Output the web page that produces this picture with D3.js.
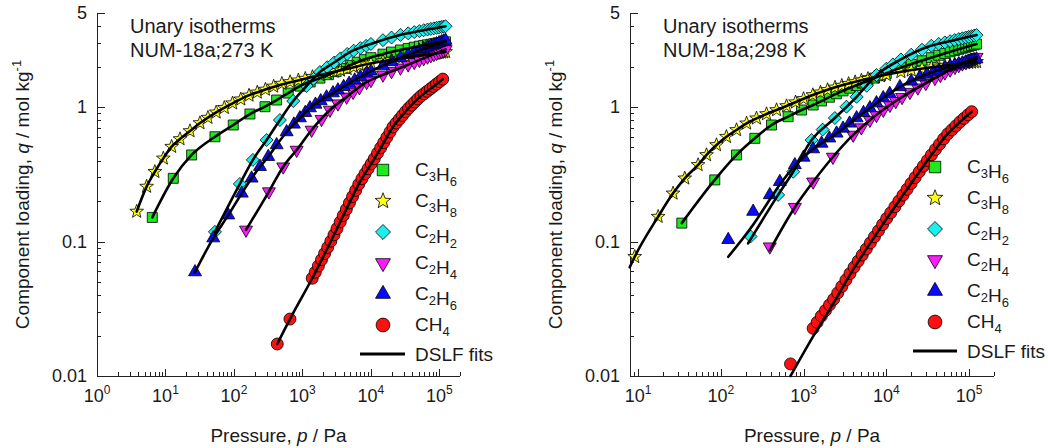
<!DOCTYPE html>
<html>
<head>
<meta charset="utf-8">
<script src="https://cdn.jsdelivr.net/npm/d3@7"></script>
<style>
  html, body { margin: 0; padding: 0; background: #ffffff; }
  svg { display: block; font-family: "Liberation Sans", Arial, Helvetica, sans-serif; }
</style>
</head>
<body>
<svg id="chart" width="1048" height="448"></svg>
<script>
// ---------------- axis ticks ----------------
const yTickValues = [0.01, 0.1, 1, 5];
const yTickLabels = ["0.01", "0.1", "1", "5"];
const xTickExponents273 = [0, 1, 2, 3, 4, 5];
const xTickExponents298 = [1, 2, 3, 4, 5];

// ---------------- species ----------------
const speciesKeys = ["C3H6", "C3H8", "C2H2", "C2H4", "C2H6", "CH4"];
const speciesLabels = [
  [["C", "3"], ["H", "6"]],
  [["C", "3"], ["H", "8"]],
  [["C", "2"], ["H", "2"]],
  [["C", "2"], ["H", "4"]],
  [["C", "2"], ["H", "6"]],
  [["CH", "4"]]
];
const panelTitles273 = ["Unary isotherms", "NUM-18a;273 K"];
const panelTitles298 = ["Unary isotherms", "NUM-18a;298 K"];
const fitLabel = "DSLF fits";

// ---------------- 273 K : measured loadings (p / Pa, q / mol kg-1) ----------------
const p273C3H6 = [6.42, 13.0, 24.1, 52.8, 97.7, 171, 284, 420, 620, 919, 1300, 1800, 2400, 3100, 4000, 5000, 6300, 8000, 10000, 15000, 20000, 27000, 35000, 43000, 51000, 59000, 67000, 75000, 83000, 91000, 99000, 107000, 115000, 123000];
const q273C3H6 = [0.151, 0.295, 0.440, 0.601, 0.735, 0.887, 1.005, 1.127, 1.270, 1.430, 1.535, 1.640, 1.739, 1.832, 1.936, 2.039, 2.153, 2.250, 2.328, 2.471, 2.560, 2.655, 2.727, 2.786, 2.835, 2.870, 2.901, 2.928, 2.953, 2.976, 2.996, 3.015, 3.034, 3.051];

const p273C3H8 = [3.8, 5.3, 7.0, 9.3, 12.3, 16.3, 22.8, 31.9, 41.7, 55.0, 72.4, 95.5, 126, 166, 219, 288, 380, 501, 661, 871, 1100, 1400, 1800, 2300, 2900, 3600, 4500, 5600, 7000, 8500, 10000, 15000, 20000, 27000, 35000, 43000, 51000, 59000, 67000, 75000, 83000, 91000, 99000, 107000, 115000, 123000];
const q273C3H8 = [0.167, 0.256, 0.330, 0.415, 0.507, 0.578, 0.663, 0.760, 0.833, 0.913, 0.987, 1.067, 1.141, 1.219, 1.284, 1.349, 1.422, 1.492, 1.535, 1.579, 1.625, 1.677, 1.728, 1.779, 1.829, 1.872, 1.919, 1.977, 2.038, 2.076, 2.109, 2.189, 2.238, 2.291, 2.337, 2.375, 2.405, 2.432, 2.455, 2.476, 2.495, 2.512, 2.528, 2.543, 2.557, 2.570];

const p273C2H2 = [52.8, 122, 189, 300, 469, 734, 1152, 1450, 1800, 2300, 2900, 3600, 4500, 5600, 7000, 8500, 10000, 15000, 20000, 27000, 35000, 43000, 51000, 59000, 67000, 75000, 83000, 91000, 99000, 107000, 115000, 123000];
const q273C2H2 = [0.118, 0.268, 0.404, 0.568, 0.800, 1.108, 1.433, 1.621, 1.820, 1.978, 2.140, 2.301, 2.481, 2.624, 2.742, 2.848, 2.941, 3.141, 3.284, 3.437, 3.530, 3.606, 3.670, 3.725, 3.771, 3.810, 3.846, 3.878, 3.908, 3.936, 3.963, 3.987];

const p273C2H4 = [150, 324, 524, 823, 1362, 1900, 2520, 3300, 4418, 5500, 6800, 8655, 10000, 15000, 20000, 27000, 35000, 43000, 51000, 59000, 67000, 75000, 83000, 91000, 99000, 107000, 115000, 123000];
const q273C2H4 = [0.122, 0.235, 0.360, 0.479, 0.675, 0.812, 0.950, 1.059, 1.190, 1.291, 1.398, 1.530, 1.583, 1.736, 1.841, 1.957, 2.065, 2.155, 2.232, 2.301, 2.362, 2.418, 2.470, 2.518, 2.562, 2.603, 2.642, 2.680];

const p273C2H6 = [27.0, 49.9, 82.6, 130, 181, 240, 317, 420, 588, 750, 919, 1100, 1287, 1550, 1850, 2250, 2788, 3300, 4000, 4800, 5800, 7000, 8655, 10000, 15000, 20000, 27000, 35000, 43000, 51000, 59000, 67000, 75000, 83000, 91000, 99000, 107000, 115000, 123000];
const q273C2H6 = [0.0593, 0.106, 0.157, 0.228, 0.295, 0.360, 0.427, 0.522, 0.652, 0.743, 0.828, 0.907, 0.983, 1.045, 1.109, 1.183, 1.270, 1.335, 1.414, 1.493, 1.580, 1.671, 1.780, 1.841, 2.023, 2.163, 2.319, 2.440, 2.541, 2.628, 2.705, 2.774, 2.836, 2.893, 2.946, 2.996, 3.042, 3.085, 3.127];

const p273CH4 = [429, 657, 1390, 1540, 1710, 1900, 2110, 2340, 2600, 2890, 3200, 3560, 3950, 4380, 4860, 5400, 6000, 6650, 7400, 8200, 9100, 10100, 11200, 12500, 13900, 15400, 17100, 19000, 21000, 23400, 26000, 28800, 32000, 35500, 39400, 43700, 48500, 53800, 59700, 66300, 73600, 81700, 90700, 100700, 112000];
const q273CH4 = [0.0173, 0.0265, 0.0533, 0.0591, 0.0658, 0.0732, 0.0814, 0.0904, 0.1006, 0.1121, 0.1248, 0.1397, 0.1558, 0.1738, 0.1938, 0.2158, 0.2402, 0.2666, 0.2931, 0.3190, 0.3475, 0.3785, 0.4130, 0.4543, 0.4981, 0.5440, 0.5957, 0.6523, 0.7107, 0.7602, 0.8113, 0.8642, 0.9226, 0.9781, 1.032, 1.089, 1.149, 1.206, 1.256, 1.308, 1.362, 1.419, 1.481, 1.544, 1.612];

// ---------------- 273 K : DSLF fit curves ----------------
const fitP273C3H6 = [6.42, 13.0, 24.1, 52.8, 97.7, 171, 284, 420, 620, 919, 1800, 3527, 6909, 13535, 26510, 51920, 123000];
const fitQ273C3H6 = [0.151, 0.295, 0.440, 0.601, 0.735, 0.887, 1.005, 1.127, 1.270, 1.430, 1.640, 1.880, 2.200, 2.440, 2.650, 2.840, 3.051];
const fitP273C3H8 = [3.8, 5.3, 7.0, 9.3, 12.3, 16.3, 22.8, 31.9, 52.8, 97, 171, 303, 469, 919, 1423, 2788, 4462, 6909, 13535, 41040, 123000];
const fitQ273C3H8 = [0.167, 0.256, 0.330, 0.415, 0.507, 0.578, 0.663, 0.760, 0.902, 1.070, 1.230, 1.360, 1.460, 1.590, 1.680, 1.820, 1.920, 2.030, 2.170, 2.370, 2.570];
const fitP273C2H2 = [52.8, 122, 189, 300, 469, 734, 1152, 1800, 2982, 4936, 10700, 26510, 61430, 123000];
const fitQ273C2H2 = [0.118, 0.268, 0.404, 0.568, 0.800, 1.108, 1.433, 1.820, 2.160, 2.560, 2.980, 3.430, 3.740, 3.987];
const fitP273C2H4 = [150, 324, 524, 823, 1362, 2520, 4418, 8655, 13535, 26510, 51920, 123000];
const fitQ273C2H4 = [0.122, 0.235, 0.360, 0.479, 0.675, 0.950, 1.190, 1.530, 1.700, 1.950, 2.240, 2.680];
const fitP273C2H6 = [27, 49.9, 82.6, 130, 181, 240, 317, 420, 588, 919, 1287, 2788, 8655, 26510, 123000];
const fitQ273C2H6 = [0.0593, 0.106, 0.157, 0.228, 0.295, 0.360, 0.427, 0.522, 0.652, 0.828, 0.983, 1.270, 1.780, 2.310, 3.127];
const fitP273CH4 = [429, 657, 1390, 2788, 4936, 6909, 10700, 14970, 20960, 33540, 51920, 80380, 112000];
const fitQ273CH4 = [0.0173, 0.0265, 0.0533, 0.108, 0.197, 0.277, 0.397, 0.531, 0.710, 0.950, 1.190, 1.410, 1.612];

// ---------------- 298 K : measured loadings ----------------
const p298C3H6 = [33.8, 84.6, 155, 258, 410, 651, 946, 1306, 1650, 2050, 2500, 3000, 3600, 4300, 5100, 6000, 7200, 8500, 10000, 15000, 20000, 27000, 35000, 43000, 51000, 59000, 67000, 75000, 83000, 91000, 99000, 107000, 115000, 123000];
const q298C3H6 = [0.137, 0.287, 0.440, 0.585, 0.735, 0.847, 0.950, 1.035, 1.109, 1.183, 1.254, 1.318, 1.380, 1.443, 1.506, 1.569, 1.641, 1.708, 1.777, 1.961, 2.078, 2.207, 2.326, 2.424, 2.501, 2.569, 2.629, 2.684, 2.734, 2.780, 2.823, 2.863, 2.901, 2.937];

const p298C3H8 = [9.12, 17.5, 26.5, 36.7, 53.2, 67.2, 88.7, 117, 155, 205, 270, 357, 472, 623, 800, 1000, 1295, 1600, 1950, 2400, 2900, 3500, 4200, 5000, 6000, 7200, 8500, 10000, 15000, 20000, 27000, 35000, 43000, 51000, 59000, 67000, 75000, 83000, 91000, 99000, 107000, 115000, 123000];
const q298C3H8 = [0.077, 0.153, 0.228, 0.295, 0.371, 0.440, 0.522, 0.601, 0.675, 0.756, 0.824, 0.887, 0.950, 1.017, 1.085, 1.149, 1.228, 1.285, 1.341, 1.398, 1.442, 1.488, 1.533, 1.577, 1.623, 1.662, 1.698, 1.734, 1.825, 1.873, 1.925, 1.971, 2.003, 2.029, 2.051, 2.071, 2.089, 2.105, 2.120, 2.134, 2.146, 2.158, 2.169];

const p298C2H2 = [229, 493, 749, 1250, 1700, 2390, 3300, 4374, 5800, 7633, 10000, 12000, 15000, 20000, 27000, 35000, 43000, 51000, 59000, 67000, 75000, 83000, 91000, 99000, 107000, 115000, 123000];
const q298C2H2 = [0.109, 0.222, 0.330, 0.568, 0.679, 0.828, 1.005, 1.190, 1.438, 1.730, 1.927, 2.072, 2.257, 2.449, 2.668, 2.856, 2.945, 3.021, 3.088, 3.147, 3.197, 3.243, 3.286, 3.324, 3.361, 3.395, 3.428];

const p298C2H4 = [391, 785, 1306, 2262, 3980, 5000, 6334, 7600, 9200, 11050, 13000, 15500, 19290, 24000, 30000, 38690, 45000, 51000, 59000, 67530, 75000, 83000, 91000, 99000, 107000, 115000, 123000];
const q298C2H4 = [0.0915, 0.180, 0.278, 0.425, 0.620, 0.703, 0.800, 0.870, 0.951, 1.035, 1.104, 1.183, 1.290, 1.391, 1.502, 1.640, 1.726, 1.800, 1.891, 1.980, 2.040, 2.100, 2.155, 2.207, 2.257, 2.303, 2.347];

const p298C2H6 = [123, 246, 391, 517, 785, 1000, 1306, 1650, 2050, 2506, 3000, 3600, 4374, 5300, 6334, 7600, 9174, 11000, 14600, 20000, 25480, 31000, 37000, 43000, 51130, 59000, 67000, 75000, 83000, 91000, 99000, 107000, 115000, 123000];
const q298C2H6 = [0.103, 0.167, 0.222, 0.278, 0.371, 0.422, 0.487, 0.536, 0.586, 0.637, 0.693, 0.756, 0.828, 0.905, 0.983, 1.070, 1.167, 1.257, 1.410, 1.552, 1.670, 1.746, 1.815, 1.876, 1.950, 1.998, 2.042, 2.083, 2.119, 2.153, 2.185, 2.214, 2.242, 2.268];

const p298CH4 = [696, 1306, 1460, 1640, 1840, 2060, 2310, 2590, 2900, 3250, 3640, 4080, 4570, 5120, 5730, 6420, 7190, 8050, 9020, 10100, 11300, 12700, 14200, 15900, 17800, 19900, 22300, 25000, 28000, 31400, 35100, 39300, 44000, 49300, 55200, 61900, 69300, 77600, 86900, 97300, 107500];
const q298CH4 = [0.0123, 0.0226, 0.0251, 0.0279, 0.0307, 0.0338, 0.0372, 0.0415, 0.0463, 0.0518, 0.0578, 0.0645, 0.0715, 0.0794, 0.0880, 0.0977, 0.1084, 0.1203, 0.1336, 0.1483, 0.1636, 0.1813, 0.2001, 0.2212, 0.2445, 0.2700, 0.2987, 0.3299, 0.3634, 0.4007, 0.4406, 0.4838, 0.5296, 0.5800, 0.6310, 0.6761, 0.7237, 0.7749, 0.8233, 0.8750, 0.9231];

// ---------------- 298 K : DSLF fit curves ----------------
const fitP298C3H6 = [33.8, 84.6, 155, 258, 410, 651, 946, 1306, 2748, 6334, 14600, 44470, 123000];
const fitQ298C3H6 = [0.137, 0.287, 0.440, 0.585, 0.735, 0.847, 0.950, 1.035, 1.290, 1.590, 1.950, 2.440, 2.937];
const fitP298C3H8 = [7.94, 9.12, 17.5, 26.5, 36.7, 53.2, 67.2, 88.7, 117, 155, 205, 270, 357, 472, 623, 1295, 2262, 5779, 14600, 36910, 123000];
const fitQ298C3H8 = [0.0643, 0.077, 0.153, 0.228, 0.295, 0.371, 0.440, 0.522, 0.601, 0.675, 0.756, 0.824, 0.887, 0.950, 1.017, 1.228, 1.385, 1.615, 1.820, 1.980, 2.169];
const fitP298C2H2 = [214, 493, 749, 1250, 2390, 4374, 7633, 14600, 33670, 67530, 123000];
const fitQ298C2H2 = [0.097, 0.222, 0.330, 0.568, 0.828, 1.190, 1.730, 2.240, 2.840, 3.150, 3.428];
const fitP298C2H4 = [391, 785, 1306, 2262, 3980, 6334, 11050, 19290, 38690, 67530, 123000];
const fitQ298C2H4 = [0.086, 0.180, 0.278, 0.425, 0.620, 0.800, 1.035, 1.290, 1.640, 1.980, 2.347];
const fitP298C2H6 = [123, 246, 391, 517, 785, 1306, 2506, 4374, 6334, 9174, 14600, 25480, 51130, 123000];
const fitQ298C2H6 = [0.077, 0.133, 0.205, 0.265, 0.365, 0.487, 0.637, 0.828, 0.983, 1.167, 1.410, 1.670, 1.950, 2.268];
const fitP298CH4 = [696, 1306, 2280, 3980, 6944, 10080, 14600, 23250, 36910, 53590, 77620, 107500];
const fitQ298CH4 = [0.0100, 0.0197, 0.0345, 0.062, 0.105, 0.148, 0.205, 0.310, 0.460, 0.620, 0.775, 0.923];

// ---------------- tables assembled from the arrays above ----------------
const pairs = (p, q) => p.map((v, i) => ({ p: v, q: q[i] }));
const isotherms273 = {
  C3H6: { pts: pairs(p273C3H6, q273C3H6), fit: pairs(fitP273C3H6, fitQ273C3H6) },
  C3H8: { pts: pairs(p273C3H8, q273C3H8), fit: pairs(fitP273C3H8, fitQ273C3H8) },
  C2H2: { pts: pairs(p273C2H2, q273C2H2), fit: pairs(fitP273C2H2, fitQ273C2H2) },
  C2H4: { pts: pairs(p273C2H4, q273C2H4), fit: pairs(fitP273C2H4, fitQ273C2H4) },
  C2H6: { pts: pairs(p273C2H6, q273C2H6), fit: pairs(fitP273C2H6, fitQ273C2H6) },
  CH4:  { pts: pairs(p273CH4,  q273CH4),  fit: pairs(fitP273CH4,  fitQ273CH4) }
};
const isotherms298 = {
  C3H6: { pts: pairs(p298C3H6, q298C3H6), fit: pairs(fitP298C3H6, fitQ298C3H6) },
  C3H8: { pts: pairs(p298C3H8, q298C3H8), fit: pairs(fitP298C3H8, fitQ298C3H8) },
  C2H2: { pts: pairs(p298C2H2, q298C2H2), fit: pairs(fitP298C2H2, fitQ298C2H2) },
  C2H4: { pts: pairs(p298C2H4, q298C2H4), fit: pairs(fitP298C2H4, fitQ298C2H4) },
  C2H6: { pts: pairs(p298C2H6, q298C2H6), fit: pairs(fitP298C2H6, fitQ298C2H6) },
  CH4:  { pts: pairs(p298CH4,  q298CH4),  fit: pairs(fitP298CH4,  fitQ298CH4) }
};

// ---------------- marker styles ----------------
const markStyle = {
  C3H6: { shape: "square",   fill: "#1ee81e" },
  C3H8: { shape: "star",     fill: "#ffff14" },
  C2H2: { shape: "diamond",  fill: "#19f0f0" },
  C2H4: { shape: "triDown",  fill: "#ff19ff" },
  C2H6: { shape: "triUp",    fill: "#0a0aff" },
  CH4:  { shape: "circle",   fill: "#ff1010" }
};

function shapePath(shape, k) {
  // k scales the base marker size
  switch (shape) {
    case "square": {
      const h = 5 * k;
      return `M${-h},${-h}H${h}V${h}H${-h}Z`;
    }
    case "diamond": {
      const h = 6.5 * k;
      return `M0,${-h}L${h},0L0,${h}L${-h},0Z`;
    }
    case "triUp": {
      const s = 13 * k;
      return `M0,${-0.577 * s}L${0.5 * s},${0.289 * s}L${-0.5 * s},${0.289 * s}Z`;
    }
    case "triDown": {
      const s = 13 * k;
      return `M0,${0.577 * s}L${0.5 * s},${-0.289 * s}L${-0.5 * s},${-0.289 * s}Z`;
    }
    case "circle": {
      const r = 6 * k;
      return `M${r},0A${r},${r},0,1,1,${-r},0A${r},${r},0,1,1,${r},0Z`;
    }
    case "star": {
      const R = 7.2 * k, r = R * 0.42;
      let d = "";
      for (let i = 0; i < 10; i++) {
        const a = -Math.PI / 2 + i * Math.PI / 5;
        const rr = i % 2 === 0 ? R : r;
        d += (i === 0 ? "M" : "L") + (rr * Math.cos(a)).toFixed(2) + "," + (rr * Math.sin(a)).toFixed(2);
      }
      return d + "Z";
    }
  }
}

// ---------------- layout ----------------
const panels = [
  {
    titles: panelTitles273, data: isotherms273,
    xDomain: [1, 2e5], xRange: [97, 460], xExps: xTickExponents273,
    titleX: 130, yLabelX: 29,
    legend: { sx: 383, tx: 415, y0: 170, dy: 31, lineY: 354, lx0: 360, lx1: 405 }
  },
  {
    titles: panelTitles298, data: isotherms298,
    xDomain: [8, 2e5], xRange: [630, 994], xExps: xTickExponents298,
    titleX: 663, yLabelX: 562,
    legend: { sx: 935, tx: 967, y0: 167, dy: 31, lineY: 351, lx0: 913, lx1: 957 }
  }
];

const svg = d3.select("#chart");
const textColor = "#1a1a1a";
const yScale = d3.scaleLog().domain([0.01, 5]).range([376, 13]);

panels.forEach(panel => {
  const x = d3.scaleLog().domain(panel.xDomain).range(panel.xRange);
  const y = yScale;
  const g = svg.append("g");
  const x0 = panel.xRange[0], x1 = panel.xRange[1];
  const yBottom = y.range()[0], yTop = y.range()[1];

  // ---- axes ----
  const axis = g.append("g").attr("stroke", "#222").attr("stroke-width", 1).attr("shape-rendering", "crispEdges");
  axis.append("line").attr("x1", x0).attr("x2", x1).attr("y1", yBottom).attr("y2", yBottom);
  axis.append("line").attr("x1", x0).attr("x2", x0).attr("y1", yTop).attr("y2", yBottom);

  // x ticks (pointing into the plot)
  const [xd0, xd1] = panel.xDomain;
  for (let e = Math.floor(Math.log10(xd0)); e <= Math.floor(Math.log10(xd1)); e++) {
    for (let m = 1; m < 10; m++) {
      const v = m * Math.pow(10, e);
      if (v < xd0 * 0.9999 || v > xd1 * 1.0001) continue;
      const len = m === 1 ? 7 : 4;
      const xp = Math.round(x(v)) + 0.5;
      axis.append("line").attr("x1", xp).attr("x2", xp).attr("y1", yBottom).attr("y2", yBottom - len);
    }
  }
  // y ticks (pointing into the plot)
  const [yd0, yd1] = y.domain();
  for (let e = Math.floor(Math.log10(yd0)); e <= Math.floor(Math.log10(yd1)); e++) {
    for (let m = 1; m < 10; m++) {
      const v = m * Math.pow(10, e);
      if (v < yd0 * 0.9999 || v > yd1 * 1.0001) continue;
      const major = yTickValues.some(t => Math.abs(t - v) / t < 1e-6);
      const len = major ? 8 : 4;
      const yp = Math.round(y(v)) + 0.5;
      axis.append("line").attr("x1", x0).attr("x2", x0 + len).attr("y1", yp).attr("y2", yp);
    }
  }

  // y tick labels
  yTickValues.forEach((v, i) => {
    g.append("text")
      .attr("x", x0 - 10).attr("y", y(v)).attr("dy", "0.35em")
      .attr("text-anchor", "end").attr("font-size", 18).attr("fill", textColor)
      .text(yTickLabels[i]);
  });
  // x tick labels: 10^n
  panel.xExps.forEach(n => {
    const t = g.append("text")
      .attr("x", x(Math.pow(10, n))).attr("y", 402)
      .attr("text-anchor", "middle").attr("font-size", 18).attr("fill", textColor);
    t.append("tspan").text("10");
    t.append("tspan").attr("font-size", 12).attr("dy", -8).text(String(n));
  });

  // axis titles
  const xt = g.append("text")
    .attr("x", (x0 + x1) / 2).attr("y", 442)
    .attr("text-anchor", "middle").attr("font-size", 19).attr("fill", textColor);
  xt.append("tspan").text("Pressure, ");
  xt.append("tspan").attr("font-style", "italic").text("p");
  xt.append("tspan").text(" / Pa");

  const yt = g.append("text")
    .attr("transform", `translate(${panel.yLabelX},${(yTop + yBottom) / 2}) rotate(-90)`)
    .attr("text-anchor", "middle").attr("font-size", 19).attr("fill", textColor);
  yt.append("tspan").text("Component loading, ");
  yt.append("tspan").attr("font-style", "italic").text("q");
  yt.append("tspan").text(" / mol kg");
  yt.append("tspan").attr("font-size", 13).attr("dy", -8).text("-1");

  // panel title
  panel.titles.forEach((s, i) => {
    g.append("text")
      .attr("x", panel.titleX).attr("y", 33 + i * 24)
      .attr("font-size", 20).attr("fill", textColor)
      .text(s);
  });

  // ---- measured points ----
  const marks = g.append("g");
  speciesKeys.forEach(key => {
    const st = markStyle[key];
    const d = shapePath(st.shape, 1);
    marks.append("g")
      .selectAll("path")
      .data(panel.data[key].pts)
      .join("path")
      .attr("d", d)
      .attr("transform", pt => `translate(${x(pt.p)},${y(pt.q)})`)
      .attr("fill", st.fill)
      .attr("stroke", "#000")
      .attr("stroke-width", 0.8)
      .attr("stroke-linejoin", "miter");
  });

  // ---- DSLF fits ----
  const line = d3.line()
    .x(pt => x(pt.p))
    .y(pt => y(pt.q))
    .curve(d3.curveMonotoneX);
  speciesKeys.forEach(key => {
    g.append("path")
      .attr("d", line(panel.data[key].fit))
      .attr("fill", "none")
      .attr("stroke", "#000")
      .attr("stroke-width", 2.6)
      .attr("stroke-linecap", "round");
  });

  // ---- legend ----
  const lg = panel.legend;
  speciesKeys.forEach((key, i) => {
    const yy = lg.y0 + i * lg.dy;
    const st = markStyle[key];
    g.append("path")
      .attr("d", shapePath(st.shape, 1.15))
      .attr("transform", `translate(${lg.sx},${yy})`)
      .attr("fill", st.fill).attr("stroke", "#000").attr("stroke-width", 0.8);
    const t = g.append("text")
      .attr("x", lg.tx).attr("y", yy + 6)
      .attr("font-size", 19).attr("fill", textColor);
    speciesLabels[i].forEach(([main, sub]) => {
      t.append("tspan").text(main);
      t.append("tspan").attr("font-size", 13).attr("dy", 5).text(sub);
      t.append("tspan").attr("font-size", 19).attr("dy", -5).text("");
    });
  });
  g.append("line")
    .attr("x1", lg.lx0).attr("x2", lg.lx1).attr("y1", lg.lineY).attr("y2", lg.lineY)
    .attr("stroke", "#000").attr("stroke-width", 3.2);
  g.append("text")
    .attr("x", lg.tx).attr("y", lg.lineY + 7)
    .attr("font-size", 19).attr("fill", textColor)
    .text(fitLabel);
});
</script>
</body>
</html>
